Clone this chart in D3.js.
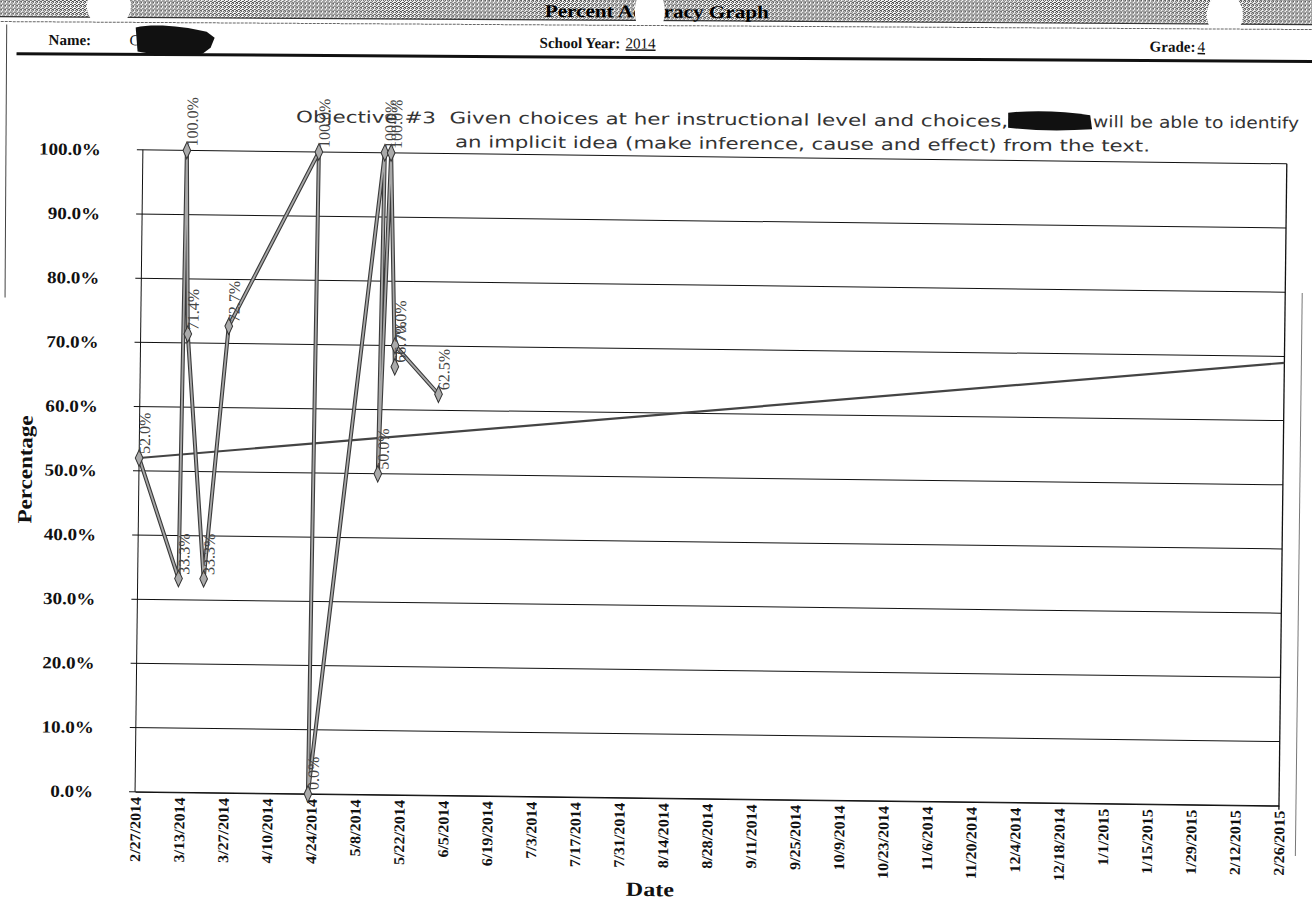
<!DOCTYPE html>
<html>
<head>
<meta charset="utf-8">
<script src="https://cdn.jsdelivr.net/npm/d3@7"></script>
<style>
  body { margin: 0; background: #fff; }
  text { white-space: pre; }
</style>
</head>
<body>
<svg id="chart" width="1312" height="908"></svg>
<script>
// ---- data ----
const sessionDates = ["2/27/2014","3/12/2014","3/13/2014","3/14/2014","3/20/2014","3/27/2014",
                      "4/24/2014","4/23/2014","5/15/2014","5/14/2014","5/17/2014","5/19/2014",
                      "5/19/2014","6/2/2014"];
const accuracy = [52.0, 33.3, 100.0, 71.4, 33.3, 72.7, 100.0, 0.0, 100.0, 50.0, 100.0, 66.7, 70.0, 62.5];

const aimDates = ["2/27/2014", "2/26/2015"];
const aimValues = [52.0, 69.0];

const dateTicks = ["2/27/2014","3/13/2014","3/27/2014","4/10/2014","4/24/2014","5/8/2014","5/22/2014",
                   "6/5/2014","6/19/2014","7/3/2014","7/17/2014","7/31/2014","8/14/2014","8/28/2014",
                   "9/11/2014","9/25/2014","10/9/2014","10/23/2014","11/6/2014","11/20/2014","12/4/2014",
                   "12/18/2014","1/1/2015","1/15/2015","1/29/2015","2/12/2015","2/26/2015"];
const percentTicks = [0, 10, 20, 30, 40, 50, 60, 70, 80, 90, 100];

const parse = d3.timeParse("%m/%d/%Y");
const serif = "'Liberation Serif', 'Times New Roman', serif";
const sans = "'DejaVu Sans', Verdana, sans-serif";

const svg = d3.select("#chart");
const defs = svg.append("defs");

// halftone fill for the title banner
const pat = defs.append("pattern").attr("id", "halftone")
  .attr("width", 4).attr("height", 4).attr("patternUnits", "userSpaceOnUse");
pat.append("rect").attr("width", 4).attr("height", 4).attr("fill", "#fff");
[[0,0],[2,0],[1,1],[3,2],[0,2],[2,3],[1,3]].forEach(([px, py]) =>
  pat.append("rect").attr("x", px).attr("y", py).attr("width", 1).attr("height", 1).attr("fill", "#444"));

// the sheet is slightly skewed: header tilts a little, the chart a little more
const head = svg.append("g").attr("transform", "rotate(0.35,400,470)");
const page = svg.append("g").attr("transform", "rotate(0.7,400,470)");

// ---- header ----
head.append("rect").attr("x", -20).attr("y", -20).attr("width", 1360).attr("height", 39)
  .attr("fill", "url(#halftone)");
head.append("line").attr("x1", -20).attr("x2", 1340).attr("y1", 19).attr("y2", 19)
  .attr("stroke", "#333").attr("stroke-width", 1.2);
head.append("text").attr("x", 542).attr("y", 16)
  .attr("font-family", serif).attr("font-weight", "bold").attr("font-size", 18)
  .attr("textLength", 224).attr("lengthAdjust", "spacingAndGlyphs")
  .text("Percent Accuracy Graph");
[[106, 8, 22, 22], [647, 10, 15, 24], [1222, 10, 18, 22]].forEach(([cx, cy, rx, ry]) =>
  head.append("ellipse").attr("cx", cx).attr("cy", cy).attr("rx", rx).attr("ry", ry).attr("fill", "#fff"));
head.append("line").attr("x1", -10).attr("x2", 1340).attr("y1", 24).attr("y2", 24)
  .attr("stroke", "#666").attr("stroke-width", 1).attr("stroke-dasharray", "3,1");

const hdr = head.append("g").attr("font-family", serif).attr("font-size", 15).attr("fill", "#111");
hdr.append("text").attr("x", 46).attr("y", 47).attr("font-weight", "bold").text("Name:");
hdr.append("text").attr("x", 127).attr("y", 47).text("C");
hdr.append("path")
  .attr("d", "M133,29 C150,25 180,27 204,33 L212,39 L208,49 L200,55 C180,57 150,56 135,53 Z")
  .attr("fill", "#111");
hdr.append("text").attr("x", 537).attr("y", 47).attr("font-weight", "bold").text("School Year:");
hdr.append("text").attr("x", 623).attr("y", 47).attr("text-decoration", "underline").text("2014");
hdr.append("text").attr("x", 1147).attr("y", 47).attr("font-weight", "bold").text("Grade:");
hdr.append("text").attr("x", 1195).attr("y", 47).attr("text-decoration", "underline").text("4");
head.append("line").attr("x1", 14).attr("x2", 1340).attr("y1", 56).attr("y2", 56)
  .attr("stroke", "#111").attr("stroke-width", 3);
head.append("line").attr("x1", 4).attr("x2", 4).attr("y1", 27).attr("y2", 300)
  .attr("stroke", "#444").attr("stroke-width", 1);

// objective statement
const obj = head.append("g").attr("font-family", sans).attr("font-size", 16).attr("fill", "#333");
obj.append("text").attr("x", 294).attr("y", 123)
  .attr("textLength", 712).attr("lengthAdjust", "spacingAndGlyphs")
  .text("Objective #3  Given choices at her instructional level and choices,");
obj.append("path")
  .attr("d", "M1006,109 C1032,106 1062,107 1088,111 L1090,125 C1062,127 1032,127 1006,124 Z")
  .attr("fill", "#111");
obj.append("text").attr("x", 1091).attr("y", 123)
  .attr("textLength", 206).attr("lengthAdjust", "spacingAndGlyphs")
  .text("will be able to identify");
obj.append("text").attr("x", 453).attr("y", 147)
  .attr("textLength", 695).attr("lengthAdjust", "spacingAndGlyphs")
  .text("an implicit idea (make inference, cause and effect) from the text.");

// ---- plot ----
const plotLeft = 139, plotRight = 1283, plotTop = 153, plotBottom = 795;
const x = d3.scaleTime().domain([parse(dateTicks[0]), parse(dateTicks[dateTicks.length - 1])])
  .range([plotLeft, plotRight]);
const y = d3.scaleLinear().domain([0, 100]).range([plotBottom, plotTop]);

// gridlines
page.append("g").selectAll("line").data(percentTicks).join("line")
  .attr("x1", plotLeft - 6).attr("x2", plotRight)
  .attr("y1", d => y(d)).attr("y2", d => y(d))
  .attr("stroke", "#111").attr("stroke-width", 1);

// plot frame
page.append("line").attr("x1", plotLeft).attr("x2", plotLeft).attr("y1", plotTop).attr("y2", plotBottom)
  .attr("stroke", "#111").attr("stroke-width", 1);
page.append("line").attr("x1", plotRight).attr("x2", plotRight).attr("y1", plotTop).attr("y2", plotBottom + 4)
  .attr("stroke", "#111").attr("stroke-width", 1.3);
page.append("line").attr("x1", 1300).attr("x2", 1300).attr("y1", 282).attr("y2", 845)
  .attr("stroke", "#777").attr("stroke-width", 1);

// y axis
const yAxis = d3.axisLeft(y).tickValues(percentTicks).tickSize(0).tickPadding(0)
  .tickFormat(d => d3.format(".1f")(d) + "%");
const yG = page.append("g").attr("transform", `translate(${plotLeft - 42},0)`).call(yAxis);
yG.select(".domain").remove();
yG.selectAll("text").attr("font-family", serif).attr("font-weight", "bold")
  .attr("font-size", 17).attr("fill", "#111").attr("transform", "scale(1.12,1)");

// x axis
const xAxis = d3.axisBottom(x).tickValues(dateTicks.map(parse)).tickSize(0).tickPadding(0)
  .tickFormat(d3.timeFormat("%-m/%-d/%Y"));
const xG = page.append("g").attr("transform", `translate(0,${plotBottom})`).call(xAxis);
xG.select(".domain").attr("stroke", "#111");
xG.selectAll("text")
  .attr("font-family", serif).attr("font-weight", "bold").attr("font-size", 15).attr("fill", "#111")
  .attr("text-anchor", "end").attr("dy", "0.35em")
  .attr("transform", "translate(0,5) rotate(-90) scale(1.07,1)")
  .attr("x", 0).attr("y", 0);

// axis titles
page.append("text").attr("transform", `translate(32,${(plotTop + plotBottom) / 2}) rotate(-90) scale(1.15,1)`)
  .attr("text-anchor", "middle").attr("font-family", serif).attr("font-weight", "bold")
  .attr("font-size", 20).attr("fill", "#111").text("Percentage");
page.append("text").attr("transform", "translate(655,893) scale(1.2,1)")
  .attr("text-anchor", "middle").attr("font-family", serif).attr("font-weight", "bold")
  .attr("font-size", 20).attr("fill", "#111").text("Date");

// aim line
const aim = aimDates.map((d, i) => ({ date: parse(d), value: aimValues[i] }));
page.append("path").datum(aim)
  .attr("d", d3.line().x(d => x(d.date)).y(d => y(d.value)))
  .attr("fill", "none").attr("stroke", "#444").attr("stroke-width", 2.2);

// accuracy series
const pts = sessionDates.map((d, i) => ({ date: parse(d), value: accuracy[i] }));
const line = d3.line().x(d => x(d.date)).y(d => y(d.value));
page.append("path").datum(pts).attr("d", line)
  .attr("fill", "none").attr("stroke", "#3a3a3a").attr("stroke-width", 4).attr("stroke-linejoin", "miter");
page.append("path").datum(pts).attr("d", line)
  .attr("fill", "none").attr("stroke", "#a8a8a8").attr("stroke-width", 1.8).attr("stroke-linejoin", "miter");

page.append("g").selectAll("path").data(pts).join("path")
  .attr("d", d3.symbol(d3.symbolDiamond, 80))
  .attr("transform", d => `translate(${x(d.date)},${y(d.value)}) scale(0.8,1)`)
  .attr("fill", "#aaa").attr("stroke", "#333").attr("stroke-width", 1.2);

// point labels
page.append("g").selectAll("text").data(pts).join("text")
  .attr("transform", d => `translate(${x(d.date) + 5},${y(d.value) - 4}) rotate(-90)`)
  .attr("dy", "0.35em")
  .attr("font-family", serif).attr("font-size", 16).attr("fill", "#444")
  .text(d => d3.format(".1f")(d.value) + "%");
</script>
</body>
</html>
